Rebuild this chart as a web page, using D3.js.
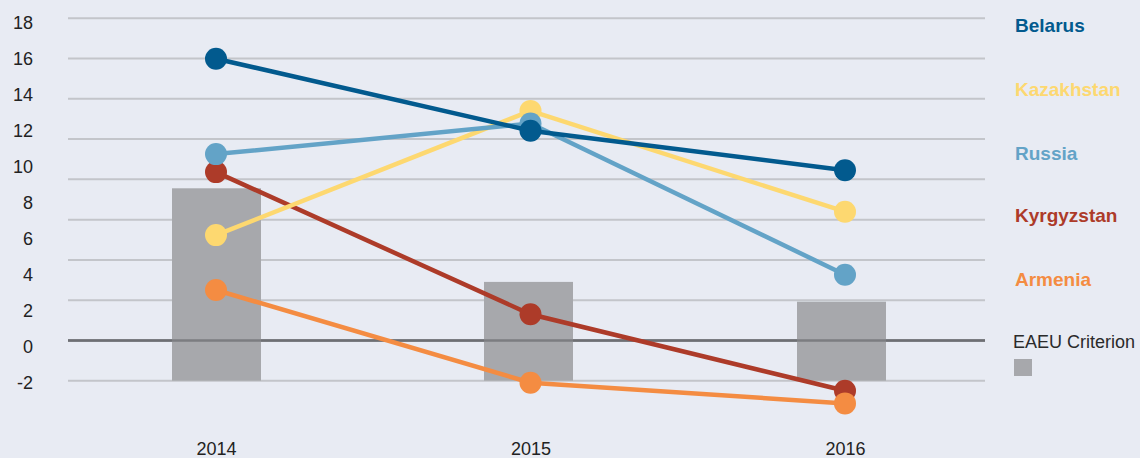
<!DOCTYPE html>
<html>
<head>
<meta charset="utf-8">
<script src="https://cdn.jsdelivr.net/npm/d3@7"></script>
<style>
  body { margin: 0; background: #e8ebf3; }
  svg { display: block; font-family: "Liberation Sans", Arial, sans-serif; }
</style>
</head>
<body>
<svg id="chart" width="1140" height="458"></svg>
<script>
// data (inflation, %)
const years = ["2014", "2015", "2016"];
const criterion = [8.8, 3.6, 2.5];
const belarus = [16.0, 12.0, 9.8];
const kazakhstan = [6.2, 13.1, 7.5];
const russia = [10.7, 12.4, 4.0];
const kyrgyzstan = [9.7, 1.8, -2.45];
const armenia = [3.15, -2.0, -3.15];
const yTicks = [-2, 0, 2, 4, 6, 8, 10, 12, 14, 16, 18];
const gridTicks = [-2, 0, 2, 4, 6, 8, 10, 12, 14, 16];

// drawn bottom to top
const series = [
  {name: "Kyrgyzstan", values: kyrgyzstan, color: "#ad3b29", ly: 215},
  {name: "Armenia", values: armenia, color: "#f48c42", ly: 279},
  {name: "Kazakhstan", values: kazakhstan, color: "#fdd870", ly: 89},
  {name: "Russia", values: russia, color: "#63a3c7", ly: 153},
  {name: "Belarus", values: belarus, color: "#025a8e", ly: 25}
];

const svg = d3.select("#chart");

// scales
const x = d3.scalePoint().domain(years).range([216, 845]);
const barX = {"2014": 172, "2015": 484, "2016": 797};
const y = d3.scaleLinear().domain([-2, 18]).range([382.7, 22.7]);
const gridY = d3.scaleLinear().domain([-2, 16]).range([380.7, 18.3]);

// gridlines
svg.append("g")
   .selectAll("line")
   .data(gridTicks)
   .join("line")
   .attr("x1", 68).attr("x2", 985)
   .attr("y1", d => gridY(d)).attr("y2", d => gridY(d))
   .attr("stroke", d => d === 0 ? "#6e6f73" : "#c3c5ca")
   .attr("stroke-width", d => d === 0 ? 2.5 : 2);

// y labels
const leftAxis = d3.axisLeft(y).tickValues(yTicks).tickSize(0).tickPadding(0)
                   .tickFormat(d => String(d));
svg.append("g")
   .attr("transform", "translate(33,0)")
   .call(leftAxis)
   .call(g => g.select(".domain").remove())
   .selectAll("text")
   .attr("font-size", 18)
   .attr("fill", "#222")
   .attr("font-family", "Liberation Sans, Arial, sans-serif");

// EAEU criterion bars (drawn from bottom gridline)
svg.append("g")
   .selectAll("rect")
   .data(years.map((yr, i) => ({yr, v: criterion[i]})))
   .join("rect")
   .attr("x", d => barX[d.yr])
   .attr("width", 89)
   .attr("y", d => y(d.v))
   .attr("height", d => gridY(-2) - y(d.v))
   .attr("fill", "#a7a8ac");

// zero line again, over the bars
svg.append("line")
   .attr("x1", 68).attr("x2", 985)
   .attr("y1", gridY(0)).attr("y2", gridY(0))
   .attr("stroke", "#6e6f73").attr("stroke-width", 2.5).attr("opacity", 0.75);

// x labels
const bottomAxis = d3.axisBottom(x).tickSize(0).tickPadding(0);
svg.append("g")
   .attr("transform", "translate(0,442)")
   .call(bottomAxis)
   .call(g => g.select(".domain").remove())
   .selectAll("text")
   .attr("font-size", 18)
   .attr("fill", "#222")
   .attr("dy", "0.71em")
   .attr("font-family", "Liberation Sans, Arial, sans-serif");

// lines + points
const line = d3.line().x((d, i) => x(years[i])).y(d => y(d));
series.forEach(s => {
  const g = svg.append("g");
  g.append("path")
   .attr("d", line(s.values))
   .attr("fill", "none")
   .attr("stroke", s.color)
   .attr("stroke-width", 4.5);
  g.selectAll("circle")
   .data(s.values)
   .join("circle")
   .attr("cx", (d, i) => x(years[i]))
   .attr("cy", d => y(d))
   .attr("r", 11)
   .attr("fill", s.color);
});

// legend
svg.append("g")
   .selectAll("text")
   .data(series)
   .join("text")
   .attr("x", 1015)
   .attr("y", d => d.ly)
   .attr("dy", "0.35em")
   .attr("font-size", 19)
   .attr("font-weight", "bold")
   .attr("fill", d => d.color)
   .text(d => d.name);

svg.append("text")
   .attr("x", 1013)
   .attr("y", 342)
   .attr("dy", "0.35em")
   .attr("font-size", 18)
   .attr("fill", "#2a2a2a")
   .text("EAEU Criterion");
svg.append("rect")
   .attr("x", 1014).attr("y", 359)
   .attr("width", 18).attr("height", 17)
   .attr("fill", "#a7a8ac");
</script>
</body>
</html>
